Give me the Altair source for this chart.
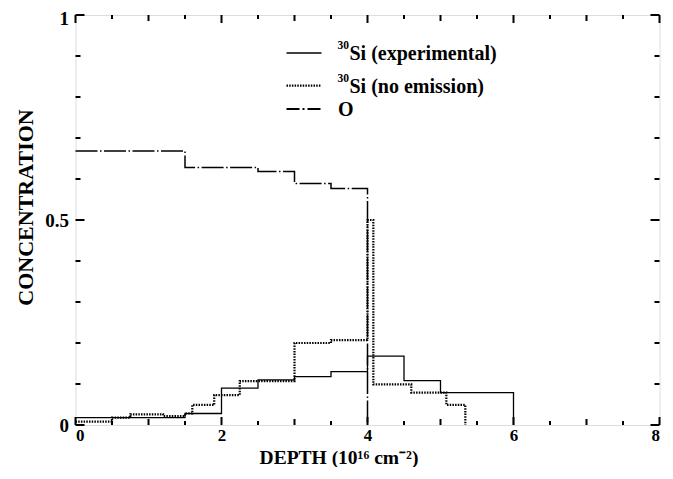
import altair as alt
import pandas as pd

# ---- data ----
exp_x = [0, 1.5, 2.0, 2.5, 3.0, 3.5, 4.0, 4.5, 5.0, 6.0]
exp_y = [0.018, 0.028, 0.09, 0.11, 0.118, 0.13, 0.168, 0.108, 0.079, 0.0]

noem_x = [0, 0.5, 0.75, 1.2, 1.5, 1.6, 1.9, 2.25, 3.0, 3.5, 4.0, 4.08, 4.6, 5.08, 5.34]
noem_y = [0.008, 0.018, 0.026, 0.022, 0.028, 0.049, 0.073, 0.107, 0.2, 0.207, 0.5, 0.099, 0.079, 0.049, 0.0]

o_x = [0, 1.5, 2.5, 3.0, 3.5, 4.0]
o_y = [0.668, 0.628, 0.618, 0.589, 0.577, 0.0]

x_ticks = [i * 0.5 for i in range(17)]
y_ticks = [i * 0.1 for i in range(11)]
x_labels = [0, 2, 4, 6, 8]
y_labels = [0, 0.5, 1]

legend_sup = ["30", "30", ""]
legend_txt = ["Si (experimental)", "Si (no emission)", "O"]

# ---- layout ----
W, H = 584, 410
FONT = "Liberation Serif"
xs = alt.Scale(domain=[0, 8], nice=False, zero=False)
ys = alt.Scale(domain=[0, 1], nice=False, zero=False)
px_x = 8.0 / W
px_y = 1.0 / H

def step_df(xv, yv):
    return pd.DataFrame({"x": xv, "y": yv, "i": list(range(len(xv)))})

x_axis = alt.Axis(values=x_labels, format="d", ticks=False, domain=False, grid=False,
                  labelFont=FONT, labelFontWeight="bold", labelFontSize=17, labelColor="black",
                  labelPadding=2, title="DEPTH (10\u00b9\u2076 cm\u207b\u00b2)",
                  titleFont=FONT, titleFontWeight="bold", titleFontSize=19.5, titleColor="black",
                  titleX=263, titleY=38, titleBaseline="alphabetic", titleAlign="center")
y_axis = alt.Axis(values=y_labels, format=".1~f", ticks=False, domain=False, grid=False,
                  labelFont=FONT, labelFontWeight="bold", labelFontSize=19, labelColor="black",
                  labelPadding=7,
                  labelOffset=alt.ConditionalAxisNumber(condition={"test": "datum.value == 1", "value": 3},
                                                        value=0),
                  title="CONCENTRATION",
                  titleFont=FONT, titleFontWeight="bold", titleFontSize=22, titleColor="black",
                  titleX=-50, titleY=192, titleAngle=270, titleBaseline="middle", titleAlign="center")

def line(xv, yv, width, dash=None):
    kw = dict(interpolate="step-after", color="black", strokeWidth=width)
    if dash:
        kw["strokeDash"] = dash
    return alt.Chart(step_df(xv, yv)).mark_line(**kw).encode(
        x=alt.X("x:Q", scale=xs, axis=x_axis),
        y=alt.Y("y:Q", scale=ys, axis=y_axis),
        order="i:O",
    )

l_exp = line(exp_x, exp_y, 1.3)
l_noem = line(noem_x, noem_y, 2.2, [1.5, 1.2])
l_o = line(o_x, o_y, 1.5, [22, 2.5, 1.5, 2.5])

# ---- inward ticks ----
def xlen(t):
    if abs(t - round(t)) > 1e-9:
        return 4
    return 8 if round(t) % 2 == 0 else 6

def ylen(t):
    r = round(t * 10)
    return 9 if r % 5 == 0 else 5

rows = []
for t in x_ticks:
    L = xlen(t) * px_y
    rows.append({"x": t, "y": 0, "x2": t, "y2": L})
    rows.append({"x": t, "y": 1, "x2": t, "y2": 1 - L})
for t in y_ticks:
    L = ylen(t) * px_x
    rows.append({"x": 0, "y": t, "x2": L, "y2": t})
    rows.append({"x": 8, "y": t, "x2": 8 - L, "y2": t})
ticks = alt.Chart(pd.DataFrame(rows)).mark_rule(color="black", strokeWidth=2).encode(
    x=alt.X("x:Q", scale=xs), y=alt.Y("y:Q", scale=ys), x2="x2:Q", y2="y2:Q")

# ---- legend (hand-drawn like the reference) ----
leg_y = [38, 70.7, 94]
leg_dash = [None, [1.5, 1.2], [13, 3, 2, 3]]
leg_w = [1.3, 2.2, 1.8]
legend_layers = []
for k in range(3):
    kw = dict(color="black", strokeWidth=leg_w[k])
    if leg_dash[k]:
        kw["strokeDash"] = leg_dash[k]
    legend_layers.append(alt.Chart(pd.DataFrame({"a": [0]})).mark_rule(**kw).encode(
        x=alt.value(211), x2=alt.value(246), y=alt.value(leg_y[k])))
    if legend_sup[k]:
        legend_layers.append(alt.Chart(pd.DataFrame({"t": [legend_sup[k]]})).mark_text(
            font=FONT, fontWeight="bold", fontSize=11.5, align="left", baseline="middle", color="black"
        ).encode(text="t:N", x=alt.value(262), y=alt.value(leg_y[k] - 7)))
        tx = 274
    else:
        tx = 262.5
    legend_layers.append(alt.Chart(pd.DataFrame({"t": [legend_txt[k]]})).mark_text(
        font=FONT, fontWeight="bold", fontSize=20, align="left", baseline="middle", color="black"
    ).encode(text="t:N", x=alt.value(tx), y=alt.value(leg_y[k] + 1)))

chart = alt.layer(l_o, l_noem, l_exp, ticks, *legend_layers).properties(
    width=W, height=H,
    autosize=alt.AutoSizeParams(type="none"),
    padding={"left": 67.5, "top": 7, "right": 5, "bottom": 42},
).configure_view(stroke="black", strokeWidth=2).configure(background="white")

chart.save("out.html", embed_options={"renderer": "svg", "actions": False})
